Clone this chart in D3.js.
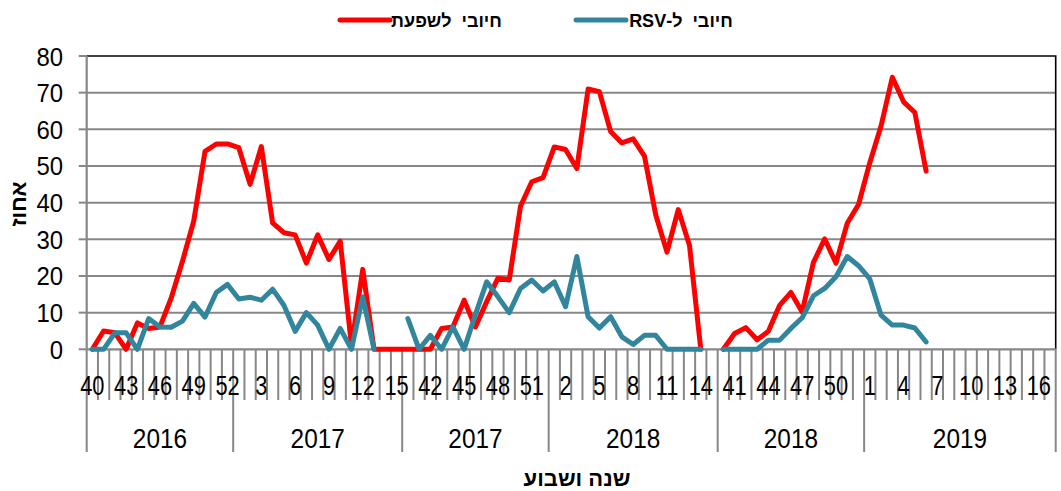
<!DOCTYPE html>
<html>
<head>
<meta charset="utf-8">
<script src="https://cdn.jsdelivr.net/npm/d3@7"></script>
<style>
  body { margin: 0; background: #fff; }
  svg { display: block; font-family: "Liberation Sans", Arial, sans-serif; }
</style>
</head>
<body>
<svg id="chart" width="1061" height="491"></svg>
<script>
// week numbers along the x axis (three seasons)
const weeks = [
  40, 41, 42, 43, 44, 45, 46, 47, 48, 49, 50, 51, 52,
  1, 2, 3, 4, 5, 6, 7, 8, 9, 10, 11, 12, 13, 14, 15,
  40, 41, 42, 43, 44, 45, 46, 47, 48, 49, 50, 51, 52,
  1, 2, 3, 4, 5, 6, 7, 8, 9, 10, 11, 12, 13, 14, 15,
  40, 41, 42, 43, 44, 45, 46, 47, 48, 49, 50, 51, 52,
  1, 2, 3, 4, 5, 6, 7, 8, 9, 10, 11, 12, 13, 14, 15, 16, 17
];
const yearLabels = ['2016', '2017', '2017', '2018', '2018', '2019'];
const yearSpans = [13, 15, 13, 15, 13, 17];

// % positive for influenza
const flu = [
  0, 5, 4.5, 0, 7.2, 5.7, 6.1, 14, 24, 35, 54, 56, 56,
  55, 45, 55.3, 34.5, 31.8, 31.2, 23.5, 31.2, 24.5, 29.5, 1, 21.8, 0, 0, 0,
  0, 0, 0, 5.7, 6.1, 13.4, 6.1, 13, 19.4, 18.9, 39, 45.7, 46.8,
  55.2, 54.5, 49.3, 71, 70.3, 59.4, 56.3, 57.4, 52.7, 36.7, 26.5, 38.1, 28.3, 0, null,
  0, 4.3, 5.9, 2.6, 4.9, 12, 15.5, 10.2, 23.7, 30.1, 23.5, 34.4, 39.5,
  50.9, 60.9, 74.2, 67.5, 64.6, 48.6, null, null, null, null, null, null, null, null, null, null, null
];
// % positive for RSV
const rsv = [
  0, 0, 4.5, 4.5, 0, 8.4, 6.1, 6, 7.7, 12.5, 8.8, 15.5, 17.7,
  13.7, 14.2, 13.4, 16.4, 12, 4.9, 10, 6.6, 0, 5.7, 0, 14.3, 0, null, null,
  8.4, 0, 3.8, 0, 6.1, 0, 9.5, 18.4, 14.3, 10, 16.6, 18.9, 15.9,
  18.4, 11.6, 25.3, 8.9, 5.8, 8.9, 3.4, 1.3, 3.8, 3.8, 0, 0, 0, 0, null,
  0, 0, 0, 0, 2.5, 2.5, 5.7, 8.6, 14.6, 16.6, 19.8, 25.3, 22.8,
  19.2, 9.3, 6.6, 6.6, 5.8, 2, null, null, null, null, null, null, null, null, null, null, null
];
const yTicks = [0, 10, 20, 30, 40, 50, 60, 70, 80];
const seriesNames = ['חיובי  לשפעת', 'חיובי  ל-RSV'];
const seriesColors = ['#ff0000', '#31859c'];

const svg = d3.select('#chart');
const plotLeft = 86.7;
const plotRight = 1055.7;
const plotTop = 56;
const plotBottom = 349.3;
const axisGrey = '#878787';

const x = d3.scaleBand().domain(d3.range(weeks.length)).range([plotLeft, plotRight]);
const y = d3.scaleLinear().domain([0, 80]).range([plotBottom, plotTop]);
const edge = k => (k < weeks.length ? x(k) : plotRight);

// gridlines
svg.append('g').selectAll('line')
  .data(yTicks.filter(t => t > 0 && t < 80))
  .enter().append('line')
  .attr('x1', plotLeft).attr('x2', plotRight)
  .attr('y1', d => y(d)).attr('y2', d => y(d))
  .attr('stroke', axisGrey).attr('stroke-width', 2);

// plot border top / right
svg.append('path')
  .attr('d', `M${plotLeft},${y(80)}H${plotRight}V${plotBottom}`)
  .attr('fill', 'none').attr('stroke', '#000').attr('stroke-width', 1.6);

// y axis
svg.append('line')
  .attr('x1', plotLeft).attr('x2', plotLeft).attr('y1', plotTop).attr('y2', plotBottom)
  .attr('stroke', axisGrey).attr('stroke-width', 2.2);
svg.append('g').selectAll('line')
  .data(yTicks)
  .enter().append('line')
  .attr('x1', plotLeft - 8).attr('x2', plotLeft)
  .attr('y1', d => y(d)).attr('y2', d => y(d))
  .attr('stroke', axisGrey).attr('stroke-width', 2);
svg.append('g').selectAll('text')
  .data(yTicks)
  .enter().append('text')
  .attr('transform', d => `translate(63,${y(d) + 9.5}) scale(0.92,1)`)
  .attr('text-anchor', 'end')
  .attr('font-size', 26)
  .attr('fill', '#000')
  .text(d => d);

// x axis: category ticks and group dividers
const groupEdges = [0];
yearSpans.forEach((n, i) => groupEdges.push(groupEdges[i] + n));
svg.append('g').selectAll('line')
  .data(d3.range(weeks.length + 1).filter(k => !groupEdges.includes(k)))
  .enter().append('line')
  .attr('x1', d => edge(d)).attr('x2', d => edge(d))
  .attr('y1', plotBottom).attr('y2', 400)
  .attr('stroke', axisGrey).attr('stroke-width', 2);
svg.append('g').selectAll('line')
  .data(groupEdges)
  .enter().append('line')
  .attr('x1', d => edge(d)).attr('x2', d => edge(d))
  .attr('y1', plotBottom).attr('y2', 452)
  .attr('stroke', axisGrey).attr('stroke-width', 2);
svg.append('line')
  .attr('x1', plotLeft).attr('x2', plotRight).attr('y1', plotBottom).attr('y2', plotBottom)
  .attr('stroke', axisGrey).attr('stroke-width', 2.2);

// week labels, every third category
svg.append('g').selectAll('text')
  .data(weeks.map((w, i) => ({ w, i })).filter(d => d.i % 3 === 0))
  .enter().append('text')
  .attr('transform', d => `translate(${x(d.i) + x.bandwidth() / 2},395) scale(0.78,1)`)
  .attr('text-anchor', 'middle')
  .attr('font-size', 28)
  .attr('fill', '#000')
  .text(d => d.w);

// year labels
svg.append('g').selectAll('text')
  .data(yearLabels)
  .enter().append('text')
  .attr('transform', (d, i) => `translate(${(edge(groupEdges[i]) + edge(groupEdges[i + 1])) / 2},448) scale(0.87,1)`)
  .attr('text-anchor', 'middle')
  .attr('font-size', 28)
  .attr('fill', '#000')
  .text(d => d);

// series lines
const line = d3.line()
  .defined(d => d != null)
  .x((d, i) => x(i) + x.bandwidth() / 2)
  .y(d => y(d));
[flu, rsv].forEach((s, k) => {
  svg.append('path')
    .datum(s)
    .attr('d', line)
    .attr('fill', 'none')
    .attr('stroke', seriesColors[k])
    .attr('stroke-width', 5)
    .attr('stroke-linejoin', 'round')
    .attr('stroke-linecap', 'round');
});

// legend
const legendX = [340, 576];
const legendTextX = [446.5, 681];
seriesNames.forEach((name, k) => {
  svg.append('line')
    .attr('x1', legendX[k]).attr('x2', legendX[k] + 50)
    .attr('y1', 20).attr('y2', 20)
    .attr('stroke', seriesColors[k]).attr('stroke-width', 5)
    .attr('stroke-linecap', 'round');
  svg.append('text')
    .attr('x', legendTextX[k]).attr('y', 27)
    .attr('text-anchor', 'middle')
    .attr('direction', 'rtl')
    .style('white-space', 'pre')
    .attr('font-size', 18)
    .attr('font-weight', 'bold')
    .attr('fill', '#000')
    .text(name);
});

// axis titles
svg.append('text')
  .attr('x', 577).attr('y', 486)
  .attr('text-anchor', 'middle')
  .attr('font-size', 22)
  .attr('font-weight', 'bold')
  .attr('fill', '#000')
  .text('שנה ושבוע');
svg.append('text')
  .attr('transform', 'translate(26,204) rotate(-90)')
  .attr('text-anchor', 'middle')
  .attr('font-size', 22)
  .attr('font-weight', 'bold')
  .attr('fill', '#000')
  .text('אחוז');
</script>
</body>
</html>
